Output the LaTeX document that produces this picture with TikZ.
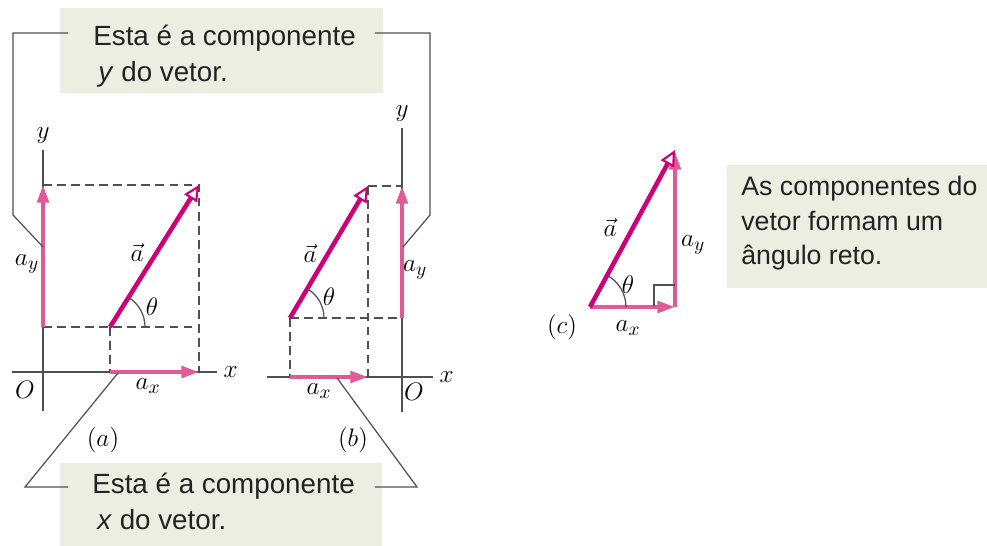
\documentclass[tikz,border=0pt]{standalone}
\usepackage{fontspec}
\newfontfamily\boxfont{Liberation Sans}
\usetikzlibrary{arrows.meta}

\definecolor{vecmag}{RGB}{205,0,120}
\definecolor{comppink}{RGB}{224,90,150}
\definecolor{boxfill}{RGB}{236,238,226}
\definecolor{linegray}{RGB}{80,80,80}
\definecolor{boxtextc}{RGB}{35,35,35}

\tikzset{
  axis/.style={draw=linegray, line width=0.9pt},
  guide/.style={draw=linegray, line width=0.8pt, dash pattern=on 5pt off 3pt},
  comp/.style={draw=comppink, line width=2.2pt, -{Triangle[length=10pt, width=6.5pt]}},
  vec/.style={draw=vecmag, line width=2.6pt, -{Triangle[length=9pt, width=8.5pt, fill=white, line width=1.2pt]}},
  arcline/.style={draw=linegray, line width=0.7pt},
  callout/.style={draw=linegray, line width=0.7pt},
  infobox/.style={fill=boxfill, draw=none, inner sep=0pt, anchor=north west},
  boxtext/.style={font=\boxfont\fontsize{15.8}{21}\selectfont, text=boxtextc, align=left, inner sep=0pt, anchor=base west},
}

\begin{document}
\begin{tikzpicture}[>=Stealth, every node/.style={font=\fontsize{15.5}{18}\selectfont}]
  \useasboundingbox (0,0) rectangle (19.74,10.92);

  % Caixas de texto (ancoradas na linha de base da ultima linha)
  \node[infobox, minimum width=6.46cm, minimum height=1.70cm] (boxY) at (1.20,10.76) {};
  \node[boxtext] (txtY) at (1.86,9.28) {Esta é a componente\\\hspace*{0.1cm}\textit{y} do vetor.};
  \node[infobox, minimum width=6.44cm, minimum height=1.80cm] (boxX) at (1.20,1.66) {};
  \node[boxtext] (txtX) at (1.84,0.32) {Esta é a componente\\\hspace*{0.1cm}\textit{x} do vetor.};
  \node[infobox, minimum width=5.30cm, minimum height=2.46cm] (boxR) at (14.54,7.62) {};
  \node[boxtext, font=\boxfont\fontsize{15.2}{19.8}\selectfont] (txtR) at (14.82,5.62) {As componentes do\\vetor formam um\\ângulo reto.};

  % ---------- (a) ----------
  \coordinate (Oa) at (0.86,3.48);
  \coordinate (Ta) at (2.20,4.38);
  \coordinate (Ha) at (3.98,7.22);

  % Linhas tracejadas
  \draw[guide] (0.86,7.22) -- (Ha) -- (3.98,3.48);
  \draw[guide] (0.86,4.38) -- (3.98,4.38);
  \draw[guide] (Ta) -- (2.20,3.48);

  % Eixos
  \draw[axis] (0.24,3.48) -- (4.34,3.48) node[right] {$x$};
  \draw[axis] (0.86,2.70) -- (0.86,7.92) node[above] {$y$};

  % Componentes e vetor
  \draw[comp] (0.86,4.38) -- (0.86,7.22);
  \draw[comp] (Ta |- Oa) -- (Ha |- Oa);
  \draw[vec] (Ta) -- (Ha);
  \draw[arcline] (Ta) ++(0.7,0) arc[start angle=0, end angle=58, radius=0.7];

  \node (Oalbl) at (0.50,3.12) {$O$};
  \node (ayA) at (0.54,5.64) {$a_y$};
  \node (aA) at (2.74,5.88) {$\vec{a}$};
  \node (thA) at (3.04,4.78) {$\theta$};
  \node (axA) at (2.96,3.20) {$a_x$};
  \node (capA) at (2.06,2.12) {$(a)$};

  % ---------- (b) ----------
  \coordinate (Ob) at (8.04,3.38);
  \coordinate (Tb) at (5.80,4.56);
  \coordinate (Hb) at (7.36,7.20);

  \draw[guide] (Hb) -- (8.04,7.20);
  \draw[guide] (Hb) -- (7.36,3.38);
  \draw[guide] (Tb) -- (8.04,4.56);
  \draw[guide] (Tb) -- (5.80,3.38);

  \draw[axis] (5.34,3.38) -- (8.66,3.38) node[right] {$x$};
  \draw[axis] (8.04,2.68) -- (8.04,8.36) node[above] {$y$};

  \draw[comp] (8.04,4.56) -- (8.04,7.20);
  \draw[comp] (Tb |- Ob) -- (Hb |- Ob);
  \draw[vec] (Tb) -- (Hb);
  \draw[arcline] (Tb) ++(0.68,0) arc[start angle=0, end angle=59.4, radius=0.68];

  \node (Oblbl) at (8.28,3.08) {$O$};
  \node (ayB) at (8.30,5.52) {$a_y$};
  \node (aB) at (6.20,5.86) {$\vec{a}$};
  \node (thB) at (6.58,4.98) {$\theta$};
  \node (axB) at (6.38,3.10) {$a_x$};
  \node (capB) at (7.06,2.12) {$(b)$};

  % ---------- (c) ----------
  \coordinate (Tc) at (11.80,4.78);
  \coordinate (Cc) at (13.50,4.78);
  \coordinate (Hc) at (13.50,7.92);

  \draw[comp] (Cc) -- (13.50,7.88);
  \draw[comp] (Tc) -- (Cc);
  \draw[vec] (Tc) -- (Hc);
  \draw[arcline] (Tc) ++(0.72,0) arc[start angle=0, end angle=61.6, radius=0.72];
  \draw[arcline] (Cc) ++(-0.42,0.02) |- ++(0.42,0.42);

  \node (aC) at (12.20,6.38) {$\vec{a}$};
  \node (ayC) at (13.86,6.02) {$a_y$};
  \node (thC) at (12.56,5.22) {$\theta$};
  \node (axC) at (12.56,4.36) {$a_x$};
  \node (capC) at (11.24,4.38) {$(c)$};

  % Linhas de chamada
  \draw[callout] (1.36,10.26) -- (0.26,10.26) -- (0.26,6.62) -- (0.86,5.98);
  \draw[callout] (7.50,10.26) -- (8.60,10.26) -- (8.60,6.62) -- (8.06,5.98);
  \draw[callout] (2.36,3.46) -- (0.50,1.18) -- (1.36,1.18);
  \draw[callout] (6.74,3.36) -- (8.34,1.18) -- (7.50,1.18);
\end{tikzpicture}
\end{document}
